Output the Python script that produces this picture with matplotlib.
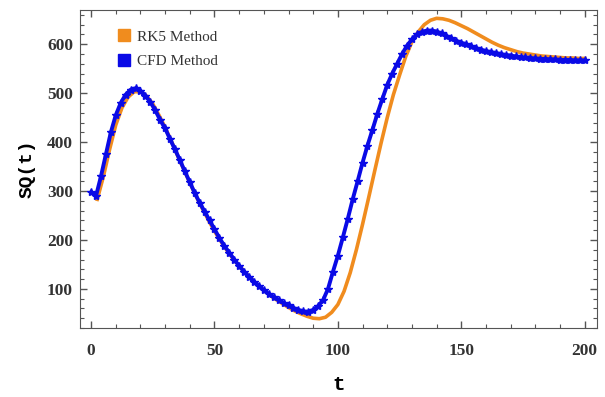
import matplotlib.pyplot as plt
from matplotlib.lines import Line2D
from matplotlib.ticker import MultipleLocator

# RK5 solution (t step 2.5)
t_rk5 = [2.5 * i for i in range(1, 81)]
sq_rk5 = [283, 330, 385, 435, 470, 492, 503, 503, 494, 478,
          455, 430, 402, 373, 345, 317, 290, 265, 241, 218,
          198, 179, 162, 147, 133, 120, 108, 97, 87, 78,
          70, 62, 55, 49, 44, 40, 39, 42, 52, 68,
          95, 133, 180, 232, 287, 343, 398, 450, 497, 537,
          575, 605, 625, 640, 649, 653, 652, 649, 644, 638,
          632, 625, 618, 611, 604, 598, 593, 589, 585, 582,
          580, 578, 576, 575, 574, 573, 572, 572, 571, 571]

# CFD solution (t step 2)
t_cfd = [2 * i for i in range(0, 101)]
sq_cfd = [298, 290, 330, 375, 420, 455, 480, 497, 507, 510,
          505, 495, 482, 465, 445, 428, 406, 385, 363, 340,
          318, 296, 276, 258, 240, 222, 204, 188, 174, 160,
          147, 135, 125, 115, 106, 97, 90, 83, 77, 71,
          66, 61, 57, 54, 53, 57, 65, 77, 100, 135,
          168, 205, 243, 283, 320, 358, 393, 425, 458, 488,
          517, 540, 560, 580, 597, 610, 620, 625, 628, 628,
          626, 622, 617, 612, 607, 603, 600, 596, 592, 589,
          586, 584, 582, 580, 578, 577, 575, 574, 573, 572,
          571, 570, 570, 569, 569, 568, 568, 568, 567, 567, 567]

orange = '#f08c1e'
blue = '#0a0ae6'

fig = plt.figure(figsize=(6.05, 3.97), dpi=100)
ax = fig.add_axes([0.1322, 0.1738, 0.8546, 0.801])

ax.plot(t_rk5, sq_rk5, color=orange, linewidth=2.6)
ax.plot(t_cfd, sq_cfd, color=blue, linewidth=2.8, marker='*', markersize=6)

ax.set_xlim(-4.5, 205)
ax.set_ylim(20, 670)
ax.xaxis.set_major_locator(MultipleLocator(50))
ax.xaxis.set_minor_locator(MultipleLocator(10))
ax.yaxis.set_major_locator(MultipleLocator(100))
ax.yaxis.set_minor_locator(MultipleLocator(20))
ax.tick_params(which='both', direction='in', top=True, right=True, color='#555555')
ax.tick_params(which='major', length=5, width=1)
ax.tick_params(which='minor', length=3, width=0.8)
for s in ax.spines.values():
    s.set_color('#555555')

for lab in ax.get_xticklabels() + ax.get_yticklabels():
    lab.set_fontfamily('Liberation Serif')
    lab.set_fontweight('bold')
    lab.set_fontsize(12.5)
    lab.set_color('#333333')
ax.tick_params(axis='x', pad=11)
ax.tick_params(axis='y', pad=5)

ax.set_xlabel('t', fontfamily='Liberation Mono', fontweight='bold', fontsize=15, labelpad=11)
ax.set_ylabel('SQ(t)', fontfamily='Liberation Mono', fontweight='bold', fontsize=14, labelpad=8)

handles = [Line2D([], [], color=orange, marker='s', linestyle='none', markersize=8),
           Line2D([], [], color=blue, marker='s', linestyle='none', markersize=8)]
ax.legend(handles, ['RK5 Method', 'CFD Method'], loc='upper left', bbox_to_anchor=(0.04, 0.98),
          frameon=False, prop={'family': 'Liberation Serif', 'size': 11},
          handletextpad=0.3, labelspacing=0.7, handlelength=1.2, labelcolor='#333333')

plt.savefig('out.png')
